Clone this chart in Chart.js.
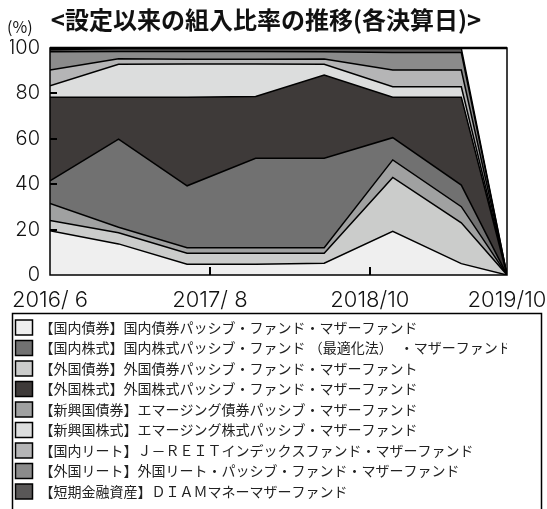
<!DOCTYPE html>
<html><head><meta charset="utf-8">
<script src="https://cdn.jsdelivr.net/npm/chart.js@4/dist/chart.umd.min.js"></script>
<style>html,body{margin:0;padding:0;background:#fff;}#wrap{width:547px;height:509px;position:relative;}</style>
</head><body><div id="wrap"><canvas id="c" width="547" height="509"></canvas></div>
<script>
// Settlement dates (category axis values)
const categories = ["2016/6","2016/12","2017/6","2017/12","2018/6","2018/12","2019/6","2019/10"];
// Axis tick dates and labels
const tickDates = ["2016/6","2017/8","2018/10","2019/10"];
const tickLabels = ["2016/ 6","2017/ 8","2018/10","2019/10"];
const yTicks = [0,20,40,60,80,100];

// Series values (%) in stacking order (bottom to top)
const domesticBond   = [19.5, 13.7,  4.7,  4.7,  5.2, 19.2,  5.0, 0];
const foreignBond    = [ 4.5,  4.9,  4.9,  4.9,  4.4, 23.8, 18.0, 0];
const emergingBond   = [ 7.5,  2.4,  2.4,  2.4,  2.4,  7.7,  7.1, 0];
const domesticStock  = [10.0, 38.9, 27.3, 39.4, 39.4,  9.8,  9.5, 0];
const foreignStock   = [36.8, 18.4, 39.0, 27.2, 36.7, 17.8, 38.7, 0];
const emergingStock  = [ 5.1, 14.5, 14.7, 14.4,  4.7,  4.6,  4.6, 0];
const domesticReit   = [ 6.9,  2.5,  2.0,  2.0,  2.4,  7.4,  7.4, 0];
const foreignReit    = [ 8.1,  3.2,  3.5,  3.5,  3.2,  7.7,  7.7, 0];
const shortTerm      = [ 0.8,  1.3,  1.3,  1.3,  1.4,  1.8,  1.8, 0];

const seriesNames = [
  "【国内債券】国内債券パッシブ・ファンド・マザーファンド",
  "【外国債券】外国債券パッシブ・ファンド・マザーファント",
  "【新興国債券】エマージング債券パッシブ・マザーファンド",
  "【国内株式】国内株式パッシブ・ファンド （最適化法）　・マザーファンド",
  "【外国株式】外国株式パッシブ・ファンド・マザーファンド",
  "【新興国株式】エマージング株式パッシブ・マザーファンド",
  "【国内リート】Ｊ－ＲＥＩＴインデックスファンド・マザーファンド",
  "【外国リート】外国リート・パッシブ・ファンド・マザーファンド",
  "【短期金融資産】ＤＩＡＭマネーマザーファンド"
];
const seriesColors = ["#efefef","#cbcccb","#a0a1a1","#717171","#3e3a39","#dcdddd","#b5b5b6","#8b8b8b","#595757"];
// legend order (index into stacking order)
const legendOrder = [0,3,1,4,2,5,6,7,8];

const seriesValues = [domesticBond, foreignBond, emergingBond, domesticStock, foreignStock, emergingStock, domesticReit, foreignReit, shortTerm];

function monthIndex(s){ const [y,m] = s.split('/').map(Number); return (y-2016)*12 + (m-6); }

const datasets = seriesValues.map((vals,i)=>({
  label: seriesNames[i],
  data: vals.map((v,j)=>({x: monthIndex(categories[j]), y: v})),
  backgroundColor: seriesColors[i],
  borderColor: '#000',
  borderWidth: 1.5,
  pointRadius: 0,
  tension: 0,
  fill: i===0 ? 'origin' : '-1'
}));

const JP = '"Noto Sans CJK JP", "Noto Sans", sans-serif';
const NUM = 'Inter, "Noto Sans", sans-serif';

const decor = {
  id: 'decor',
  afterDatasetsDraw(chart){
    const ctx = chart.ctx, a = chart.chartArea;
    const xs = chart.scales.x, ys = chart.scales.y;
    ctx.save();
    ctx.strokeStyle = '#000';
    ctx.lineWidth = 2;
    [20,40,60,80].forEach(v=>{
      const y = Math.round(ys.getPixelForValue(v));
      ctx.beginPath(); ctx.moveTo(a.left, y); ctx.lineTo(a.left+7, y); ctx.stroke();
    });
    tickDates.slice(1,3).forEach(d=>{
      const x = Math.round(xs.getPixelForValue(monthIndex(d)));
      ctx.beginPath(); ctx.moveTo(x, a.bottom); ctx.lineTo(x, a.bottom-8); ctx.stroke();
    });
    ctx.lineWidth = 1.5;
    ctx.strokeRect(a.left, a.top, a.right-a.left, a.bottom-a.top);
    ctx.lineWidth = 2.5;
    ctx.beginPath(); ctx.moveTo(a.left, a.top); ctx.lineTo(a.right, a.top); ctx.stroke();
    ctx.restore();
  },
  afterDraw(chart){
    const ctx = chart.ctx;
    const lg = chart.legend;
    ctx.save();
    ctx.strokeStyle = '#000'; ctx.lineWidth = 1.5;
    ctx.strokeRect(12.5, lg.top - 1, 529, 220);
    ctx.fillStyle = '#111';
    ctx.textBaseline = 'middle';
    ctx.textAlign = 'center';
    ctx.font = 'bold 24px ' + JP;
    ctx.fillText('<設定以来の組入比率の推移(各決算日)>', 266, 20);
    ctx.textAlign = 'left';
    ctx.font = '16px ' + JP;
    ctx.fillText('(%)', 7, 27);
    ctx.restore();
  }
};

new Chart(document.getElementById('c'), {
  type: 'line',
  data: { datasets },
  options: {
    responsive: false,
    animation: false,
    devicePixelRatio: 1,
    layout: { padding: { top: 48, left: 10, right: 40, bottom: 0 } },
    plugins: {
      title: { display: false },
      tooltip: { enabled: false },
      filler: { propagate: false },
      legend: {
        position: 'bottom',
        align: 'start',
        labels: {
          boxWidth: 17, boxHeight: 15, padding: 5.5,
          color: '#222',
          font: { family: JP, size: 14 },
          sort: (a,b) => legendOrder.indexOf(a.datasetIndex) - legendOrder.indexOf(b.datasetIndex)
        }
      }
    },
    scales: {
      x: {
        type: 'linear',
        min: 0, max: monthIndex(categories[categories.length-1]),
        grid: { display: false, drawTicks: false },
        border: { display: false },
        afterBuildTicks: s => { s.ticks = tickDates.map(d=>({value: monthIndex(d)})); },
        afterFit: s => { s.height = 39.5; s.paddingLeft = 0; s.paddingRight = 0; },
        ticks: {
          autoSkip: false, maxRotation: 0, padding: 12,
          color: '#111',
          font: { family: NUM, size: 22, weight: 300 },
          callback: (v) => { const i = tickDates.findIndex(d=>monthIndex(d)===v); return i>=0 ? tickLabels[i] : ''; }
        }
      },
      y: {
        stacked: true,
        min: 0, max: 100,
        grid: { display: false, drawTicks: false },
        border: { display: false },
        afterBuildTicks: s => { s.ticks = yTicks.map(v=>({value:v})); },
        afterFit: s => { s.width = 40; s.paddingTop = 0; s.paddingBottom = 0; },
        ticks: {
          padding: 10,
          color: '#111',
          font: { family: NUM, size: 20, weight: 300 }
        }
      }
    }
  },
  plugins: [decor]
});
</script></body></html>
